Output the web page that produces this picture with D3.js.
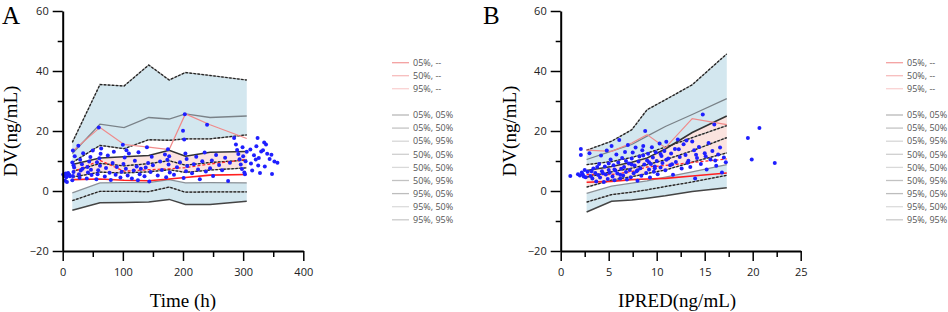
<!DOCTYPE html>
<html>
<head>
<meta charset="utf-8">
<script src="https://cdn.jsdelivr.net/npm/d3@7"></script>
<style>
  body { margin: 0; background: #fff; }
  svg { display: block; }
</style>
</head>
<body>
<svg id="chart" width="948" height="312"></svg>
<script>
// ---- panel A : DV vs Time ----
var binsA = [16, 62, 102, 143, 177, 204, 245, 306];
var p95hiA = [16.2, 35.5, 35, 42, 37, 39.5, 38.5, 37];
var p95medA = [12.5, 22.3, 21.1, 24.5, 24, 25.7, 24.5, 25];
var p95loA = [9.5, 15.2, 14.1, 17.1, 16.9, 17.4, 17.4, 18.7];
var p50hiA = [8.8, 11, 11.4, 11.8, 13.6, 11.6, 12.9, 13.2];
var p50medA = [6.5, 9.2, 8.4, 9.1, 10.1, 8.6, 9.5, 10.3];
var p50loA = [4.6, 6.3, 6, 6.4, 7.1, 6.2, 7, 7.7];
var p5hiA = [-0.6, 2.7, 2.8, 2.8, 3.8, 2.7, 2.8, 2.7];
var p5medA = [-3.2, -0.1, -0.1, -0.2, 1.3, -0.4, -0.3, -0.3];
var p5loA = [-6.4, -3.9, -3.8, -3.7, -2.8, -4.5, -4.5, -3.4];
var obs95A = [13.2, 21.2, 15.5, 14.6, 13.8, 25.7, 22.1, 17.5];
var obs50A = [6.3, 10.2, 6.6, 7.1, 7.4, 7.8, 9, 10.5];
var obs5A = [3.8, 4.0, 3.6, 3.4, 4.0, 4.5, 5.3, 5.5];

var timeA = [1,3,5,6,8,9,11,4,7,12,
  16,17,18,19,16,20,18,17,
  26,28,30,32,29,34,27,33,
  40,42,44,46,48,41,50,47,
  56,58,60,62,61,63,59,64,57,
  70,72,75,78,80,83,85,88,90,
  96,98,100,101,103,105,108,110,106,
  115,118,120,123,126,128,130,125,
  136,138,140,142,144,146,148,150,
  158,162,165,170,172,175,176,178,174,177,
  185,190,195,200,202,203,204,205,206,201,207,
  215,218,222,225,228,232,236,240,238,
  245,248,250,255,260,265,270,275,278,
  285,288,290,292,294,296,298,300,302,304,306,303,299,
  312,313,315,318,321,322,324,325,326,328,330,333,336,338,340,344,347,348,352,357,335];
var dvA = [5.5,5.0,5.8,4.6,5.2,6.0,5.4,3.4,3.0,4.9,
  3.6,5.0,6.3,7.8,9.5,11.6,8.6,13.5,
  15.1,4.4,6.8,8.9,10.4,12.6,5.6,7.4,
  4.2,6.2,9.8,11.3,5.3,8.0,13.5,7.1,
  3.9,5.6,21.2,8.4,10.9,12.4,6.9,14.2,9.6,
  4.8,7.7,11.8,6.1,3.7,9.3,13.1,5.4,8.0,
  4.5,6.4,15.4,9.0,11.2,7.4,5.2,12.5,13.6,
  4.2,6.8,10.1,8.2,12.9,5.6,7.4,3.6,
  4.9,7.8,14.6,9.3,3.2,6.3,11.4,8.6,
  5.2,9.8,7.0,12.2,4.6,13.9,8.8,6.2,10.4,11.6,
  5.4,7.9,9.6,20.1,17.2,25.6,12.5,6.6,10.7,4.3,8.3,
  5.9,8.9,11.4,7.2,3.9,9.9,12.8,22.1,6.5,
  7.6,10.2,5.0,12.0,8.7,6.9,11.1,3.3,9.4,
  17.7,15.5,13.7,12.3,10.6,8.8,7.3,11.6,6.2,9.9,13.1,5.6,14.6,
  13.8,9.2,6.8,11.9,10.5,14.9,17.7,8.5,11.0,6.0,13.2,13.6,8.2,15.5,12.4,10.7,12.1,5.7,9.8,9.4,16.2];

// ---- panel B : DV vs IPRED ----
var binsB = [2.7, 5.3, 7.4, 9.0, 10.9, 13.7, 17.3];
var p95hiB = [13.6, 16.6, 20.4, 27.1, 30.4, 35.4, 45.7];
var p95medB = [10.5, 13.3, 15.5, 18.3, 21.5, 25.5, 30.8];
var p95loB = [8.8, 9.8, 11.2, 12.6, 14.6, 17.8, 21.8];
var p50hiB = [6.8, 8.2, 9.6, 11.0, 14.0, 19.5, 25.0];
var p50medB = [4.6, 6.4, 7.6, 8.8, 10.4, 13.4, 17.8];
var p50loB = [1.3, 3.6, 4.8, 5.8, 7.0, 9.6, 12.7];
var p5hiB = [-0.8, 1.6, 2.6, 3.4, 4.6, 6.4, 8.8];
var p5medB = [-3.7, -1.2, -0.4, 0.4, 1.5, 3.0, 5.2];
var p5loB = [-7.0, -3.4, -3.0, -2.4, -1.6, -0.2, 1.1];
var obs95B = [13.6, 13.2, 16.0, 18.8, 14.4, 24.1, 22.1];
var obs50B = [5.5, 5.5, 6.5, 8.0, 8.5, 9.5, 10.7];
var obs5B = [2.9, 3.2, 3.8, 4.0, 4.2, 5.0, 6.0];

var ipredB = [1.0,1.8,2.0,2.1,2.1,2.2,2.3,2.5,2.6,2.8,3.0,3.1,3.3,3.4,3.6,3.7,3.9,4.0,4.1,4.2,
  4.3,4.5,4.6,4.7,4.8,4.9,5.0,5.1,5.2,5.3,5.4,5.5,5.6,5.7,5.8,5.9,6.0,6.1,6.2,6.3,
  6.4,6.5,6.6,6.7,6.8,6.9,7.0,7.1,7.2,7.3,7.4,7.5,7.6,7.7,7.8,7.9,8.0,8.1,8.2,8.3,
  8.4,8.5,8.6,8.7,8.8,8.9,9.0,9.1,9.2,9.3,9.4,9.5,9.6,9.7,9.8,9.9,10.0,10.1,10.3,10.4,
  10.5,10.6,10.8,10.9,11.0,11.2,11.4,11.5,11.7,11.9,12.0,12.2,12.4,12.6,12.8,13.0,13.1,13.3,13.5,13.7,
  13.9,14.0,14.2,14.4,14.6,14.8,15.0,15.2,15.4,15.6,15.8,16.0,16.2,16.4,16.6,16.8,17.0,17.2,
  19.5,19.9,20.7,22.3,
  2.4,3.2,3.8,4.4,5.0,5.6,6.2,6.8,7.4,8.0,8.6,9.2,9.8,10.4,11.0,11.6,12.3,13.2,14.1,15.1,16.1];
var dvB = [5.0,5.6,5.2,12.0,14.0,6.2,5.5,7.0,4.6,6.4,12.6,5.0,4.2,7.5,6.0,3.2,5.3,9.0,4.5,11.8,
  6.6,3.0,8.2,5.5,13.5,4.0,7.0,6.1,10.5,15.0,4.8,8.6,3.6,6.8,12.2,5.8,9.5,17.0,4.2,7.4,
  11.0,5.2,8.0,13.0,6.3,3.8,15.3,9.2,7.0,4.6,10.8,12.8,5.9,8.5,14.5,6.6,3.4,9.8,11.5,7.6,
  5.1,13.6,15.0,8.8,20.0,6.0,10.2,12.4,7.2,4.5,9.0,14.6,11.2,6.4,8.2,12.9,10.0,5.6,15.8,7.8,
  11.7,9.3,13.3,6.9,16.4,10.8,8.6,12.5,5.4,14.0,9.7,17.2,11.3,7.5,15.6,12.0,16.8,10.1,8.0,16.5,
  13.6,4.2,11.0,14.7,9.0,25.5,12.6,7.2,16.0,10.5,13.3,22.2,8.4,12.2,14.5,6.2,11.2,9.6,
  17.7,10.5,21.0,9.3,
  4.8,6.6,8.0,5.9,9.2,7.2,5.4,10.0,8.8,6.9,11.8,9.6,7.6,12.3,10.4,8.9,13.9,9.4,12.1,11.6,10.2];

var legendObs = ["05%, --", "50%, --", "95%, --"];
var legendSim = ["05%, 05%", "05%, 50%", "05%, 95%", "50%, 05%", "50%, 50%", "50%, 95%",
  "95%, 05%", "95%, 50%", "95%, 95%"];

var svg = d3.select("#chart");
var serif = "'Liberation Serif', 'Times New Roman', serif";
var sans = "'Open Sans', 'Noto Sans', sans-serif";

function zip(xs, ys) {
  var out = [];
  for (var i = 0; i < xs.length; i++) out.push([xs[i], ys[i]]);
  return out;
}

function drawPanel(o) {
  var x = d3.scaleLinear().domain(o.xDomain).range(o.xRange);
  var y = d3.scaleLinear().domain([-20, 60]).range([251, 11]);
  var g = svg.append("g");

  // bands
  var area = d3.area()
    .x(function (d) { return x(d[0]); })
    .y0(function (d) { return y(d[1]); })
    .y1(function (d) { return y(d[2]); });
  function band(lo, hi, col) {
    var pts = [];
    for (var i = 0; i < o.bins.length; i++) pts.push([o.bins[i], lo[i], hi[i]]);
    g.append("path").attr("d", area(pts)).attr("fill", col);
  }
  band(o.p95lo, o.p95hi, "#d3e7ef");
  band(o.p50lo, o.p50hi, "#fbe3df");
  band(o.p5lo, o.p5hi, "#d3e7ef");

  var line = d3.line()
    .x(function (d) { return x(d[0]); })
    .y(function (d) { return y(d[1]); });
  function solid(vals, col, w) {
    g.append("path").attr("d", line(zip(o.bins, vals)))
      .attr("fill", "none").attr("stroke", col).attr("stroke-width", w);
  }
  function dashed(vals) {
    g.append("path").attr("d", line(zip(o.bins, vals)))
      .attr("fill", "none").attr("stroke", "#999").attr("stroke-width", 1.2);
    g.append("path").attr("d", line(zip(o.bins, vals)))
      .attr("fill", "none").attr("stroke", "#222").attr("stroke-width", 1.3)
      .attr("stroke-dasharray", "2.5,1.5");
  }
  dashed(o.p95hi);
  solid(o.p95med, "#7a8288", 1.3);
  dashed(o.p95lo);
  solid(o.p50hi, "#333", 1.5);
  dashed(o.p50med);
  dashed(o.p50lo);
  solid(o.p5hi, "#8a9096", 1.3);
  dashed(o.p5med);
  solid(o.p5lo, "#444", 1.5);

  // observed percentiles
  solid(o.obs95, "#f08a8a", 1.2);
  g.append("path").attr("d", line(zip(o.bins, o.obs50)))
    .attr("fill", "none").attr("stroke", "#ff2a2a").attr("stroke-width", 1.3)
    .attr("stroke-dasharray", "3,2");
  solid(o.obs5, "#ff2020", 1.6);

  // observations
  g.selectAll("circle.obs").data(zip(o.px, o.py)).enter()
    .append("circle").attr("class", "obs")
    .attr("cx", function (d) { return x(d[0]); })
    .attr("cy", function (d) { return y(d[1]); })
    .attr("r", 2).attr("fill", "#1f1fff");

  // axes
  g.append("g").attr("transform", "translate(" + o.xRange[0] + ",0)")
    .call(d3.axisLeft(y).tickValues([-20, 0, 20, 40, 60]).tickSize(10).tickSizeOuter(0).tickPadding(4));
  g.append("g").attr("transform", "translate(" + o.xRange[0] + ",0)")
    .call(d3.axisLeft(y).tickValues([-10, 10, 30, 50]).tickSize(5).tickFormat(""))
    .call(function (s) { s.select(".domain").remove(); });
  g.append("g").attr("transform", "translate(0,251)")
    .call(d3.axisBottom(x).tickValues(o.xMajor).tickSize(10).tickSizeOuter(0).tickPadding(7));
  g.append("g").attr("transform", "translate(0,251)")
    .call(d3.axisBottom(x).tickValues(o.xMinor).tickSize(6).tickFormat(""))
    .call(function (s) { s.select(".domain").remove(); });
  g.selectAll(".domain").attr("stroke-width", 2).attr("stroke", "#000");
  g.selectAll(".tick line").attr("stroke-width", 1.5).attr("stroke", "#000");
  g.selectAll(".tick text").style("font-family", sans).style("font-size", "11px").attr("fill", "#222");

  // labels
  g.append("text").attr("x", o.labelX).attr("y", 23.5).text(o.letter)
    .style("font-family", serif).style("font-size", "25px").attr("fill", "#000");
  g.append("text").attr("transform", "translate(" + o.yLabelX + ",131)rotate(-90)")
    .attr("text-anchor", "middle").text("DV(ng/mL)")
    .style("font-family", serif).style("font-size", "19px").attr("fill", "#000");
  g.append("text").attr("x", o.xLabelX).attr("y", 307).attr("text-anchor", "middle")
    .text(o.xLabel).style("font-family", serif).style("font-size", "19px").attr("fill", "#000");

  // legend
  var obsCols = ["#f4a0a0", "#f7bcbc", "#fad2d2"];
  var simCols = ["#b8b8b8", "#c4c4c4", "#d6d6d6", "#cfcfcf", "#d9d9d9", "#c2c2c2", "#bdbdbd", "#dcdcdc", "#cacaca"];
  var rows = [];
  for (var i = 0; i < legendObs.length; i++) rows.push({ t: legendObs[i], c: obsCols[i], y: 62.7 + i * 13 });
  for (var j = 0; j < legendSim.length; j++) rows.push({ t: legendSim[j], c: simCols[j], y: 115 + j * 13.1 });
  var lg = g.append("g");
  lg.selectAll("line").data(rows).enter().append("line")
    .attr("x1", o.legX).attr("x2", o.legX + 17)
    .attr("y1", function (d) { return d.y; }).attr("y2", function (d) { return d.y; })
    .attr("stroke", function (d) { return d.c; }).attr("stroke-width", 1.3);
  lg.selectAll("text").data(rows).enter().append("text")
    .attr("x", o.legX + 21).attr("y", function (d) { return d.y + 3.2; })
    .text(function (d) { return d.t; })
    .style("font-family", sans).style("font-size", "9px").attr("fill", "#555");
}

drawPanel({
  letter: "A", labelX: 2, yLabelX: 17, xLabel: "Time (h)", xLabelX: 183,
  xDomain: [0, 400], xRange: [62.7, 303.3], xMajor: [0, 100, 200, 300, 400], xMinor: [50, 150, 250, 350],
  bins: binsA, p95hi: p95hiA, p95med: p95medA, p95lo: p95loA,
  p50hi: p50hiA, p50med: p50medA, p50lo: p50loA,
  p5hi: p5hiA, p5med: p5medA, p5lo: p5loA,
  obs95: obs95A, obs50: obs50A, obs5: obs5A,
  px: timeA, py: dvA, legX: 392
});

drawPanel({
  letter: "B", labelX: 483, yLabelX: 516, xLabel: "IPRED(ng/mL)", xLabelX: 677,
  xDomain: [0, 25], xRange: [560.7, 800.7], xMajor: [0, 5, 10, 15, 20, 25], xMinor: [2.5, 7.5, 12.5, 17.5, 22.5],
  bins: binsB, p95hi: p95hiB, p95med: p95medB, p95lo: p95loB,
  p50hi: p50hiB, p50med: p50medB, p50lo: p50loB,
  p5hi: p5hiB, p5med: p5medB, p5lo: p5loB,
  obs95: obs95B, obs50: obs50B, obs5: obs5B,
  px: ipredB, py: dvB, legX: 886
});
</script>
</body>
</html>
